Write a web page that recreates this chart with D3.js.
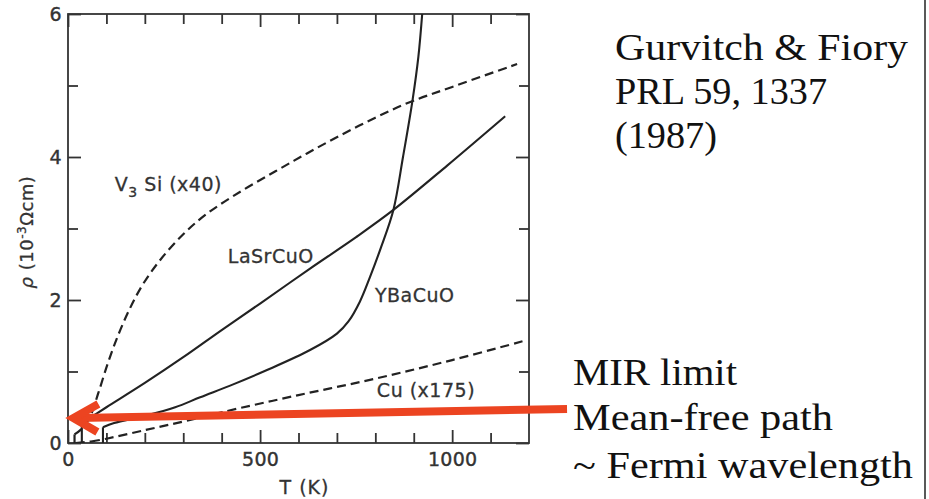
<!DOCTYPE html>
<html>
<head>
<meta charset="utf-8">
<script src="https://cdn.jsdelivr.net/npm/d3@7"></script>
<style>
    body { margin: 0; background: #fff; }
    svg { display: block; }
    .axis line { stroke: #333; stroke-width: 1.8; }
    .axis text { font-family: "DejaVu Sans", sans-serif; font-size: 19px; fill: #333; letter-spacing: 0.3px;
        stroke: #333; stroke-width: 0.4; }
    .curve { fill: none; stroke: #222; stroke-width: 2.1; }
    .dashed { stroke-dasharray: 9,5; stroke-width: 2.2; }
    .lbl { font-family: "DejaVu Sans", sans-serif; font-size: 19px; fill: #333; letter-spacing: 0.5px;
        stroke: #333; stroke-width: 0.3; }
    .note { font-family: "Liberation Serif", "Times New Roman", serif; font-size: 37px; fill: #111; }
</style>
</head>
<body>
<svg id="chart" width="929" height="499"></svg>
<script>
var v3si = [[17, 0], [17, 0.12], [40, 0.22], [60, 0.4], [79, 0.7], [104, 1.12], [130, 1.5],
    [161, 1.88], [195, 2.22], [240, 2.56], [300, 2.92], [360, 3.2], [450, 3.52], [540, 3.8],
    [622, 4.05], [708, 4.3], [800, 4.55], [891, 4.77], [1000, 4.98], [1169, 5.3]];
var lasrcuo = [[36, 0], [36, 0.28], [100, 0.5], [200, 0.84], [300, 1.2], [400, 1.58], [500, 1.95],
    [630, 2.44], [750, 2.88], [847, 3.26], [987, 3.88], [1138, 4.57]];
var ybacuo = [[91, 0], [91, 0.22], [120, 0.28], [200, 0.38], [279, 0.5], [344, 0.64], [430, 0.82],
    [518, 1.02], [630, 1.3], [700, 1.53], [730, 1.7], [760, 1.98], [786, 2.32], [815, 2.74],
    [847, 3.26], [872, 4.0], [897, 4.8], [912, 5.4], [922, 6.0]];
var cu = [[20, 0], [60, 0.02], [100, 0.06], [200, 0.18], [300, 0.3], [400, 0.43], [600, 0.67],
    [800, 0.9], [1000, 1.16], [1195, 1.44]];

var xMajor = [0, 500, 1000];
var xMinor = [100, 200, 300, 400, 600, 700, 800, 900, 1100];
var yMajor = [0, 2, 4, 6];
var yMinor = [1, 3, 5];

var svg = d3.select("#chart"),
    margin = {top: 14, left: 68},
    width = 461,
    height = 429,
    g = svg.append("g").attr("transform", "translate(" + margin.left + "," + margin.top + ")");

var x = d3.scaleLinear().domain([0, 1200]).range([0, width]);
var y = d3.scaleLinear().domain([0, 6]).range([height, 0]);

// ticks all point inward, on all four sides
function ticks(axis, size, vals, labels) {
    axis.tickValues(vals).tickSizeInner(-size).tickSizeOuter(0)
        .tickFormat(labels ? d3.format("d") : "");
    return axis;
}
[[13, xMajor], [10, xMinor]].forEach(function (t) {
    g.append("g").attr("class", "axis").attr("transform", "translate(0," + height + ")")
        .call(ticks(d3.axisBottom(x), t[0], t[1], t[1] === xMajor).tickPadding(10));
    g.append("g").attr("class", "axis")
        .call(ticks(d3.axisTop(x), t[0], t[1], false));
});
[[13, yMajor], [10, yMinor]].forEach(function (t) {
    g.append("g").attr("class", "axis")
        .call(ticks(d3.axisLeft(y), t[0], t[1], t[1] === yMajor).tickPadding(6));
    g.append("g").attr("class", "axis").attr("transform", "translate(" + width + ",0)")
        .call(ticks(d3.axisRight(y), t[0], t[1], false));
});
g.selectAll(".domain").remove();

g.append("rect")
    .attr("width", width).attr("height", height)
    .attr("fill", "none").attr("stroke", "#333").attr("stroke-width", 1.8);

g.append("clipPath").attr("id", "plot").append("rect")
    .attr("width", width).attr("height", height);

var smooth = d3.line()
    .x(function (d) { return x(d[0]); })
    .y(function (d) { return y(d[1]); })
    .curve(d3.curveCatmullRom.alpha(0.5));
var straight = d3.line()
    .x(function (d) { return x(d[0]); })
    .y(function (d) { return y(d[1]); });

// first two points are the superconducting step, drawn straight
function drawCurve(data, dashed) {
    var c = g.append("g").attr("clip-path", "url(#plot)");
    c.append("path").attr("class", "curve" + (dashed ? " dashed" : ""))
        .attr("d", straight(data.slice(0, 2)));
    c.append("path").attr("class", "curve" + (dashed ? " dashed" : ""))
        .attr("d", smooth(data.slice(1)));
}
drawCurve(v3si, true);
drawCurve(lasrcuo, false);
drawCurve(ybacuo, false);
drawCurve(cu, true);

// curve labels
var v = g.append("text").attr("class", "lbl").attr("x", x(122)).attr("y", y(3.52));
v.append("tspan").text("V");
v.append("tspan").attr("dy", 6).style("font-size", "14px").text("3");
v.append("tspan").attr("dy", -6).text(" Si (x40)");
g.append("text").attr("class", "lbl").attr("x", x(416)).attr("y", y(2.52)).text("LaSrCuO");
g.append("text").attr("class", "lbl").attr("x", x(799)).attr("y", y(1.97)).text("YBaCuO");
g.append("text").attr("class", "lbl").attr("x", x(804)).attr("y", y(0.64)).text("Cu (x175)");

// axis titles
g.append("text").attr("class", "lbl").attr("x", width / 2 + 6).attr("y", height + 51)
    .attr("text-anchor", "middle").style("letter-spacing", "1px").text("T (K)");
var yl = svg.append("text").attr("class", "lbl")
    .attr("transform", "translate(33,232) rotate(-90)")
    .attr("text-anchor", "middle").style("font-size", "18px");
yl.append("tspan").style("font-style", "italic").text("ρ");
yl.append("tspan").text(" (10");
yl.append("tspan").attr("dy", -7).style("font-size", "12px").text("-3");
yl.append("tspan").attr("dy", 7).text("Ωcm)");

// MIR-limit arrow
var arrowFrom = [1299, 0.476], arrowTo = [14, 0.35];
var ax0 = x(arrowFrom[0]), ay0 = y(arrowFrom[1]), ax1 = x(arrowTo[0]), ay1 = y(arrowTo[1]);
var red = g.append("g").attr("fill", "none").attr("stroke", "#ec4421").attr("stroke-width", 8);
red.append("line").attr("x1", ax0).attr("y1", ay0).attr("x2", ax1 + 4).attr("y2", ay1);
red.append("path").attr("stroke-linejoin", "miter")
    .attr("d", "M" + (ax1 + 25) + "," + (ay1 - 14) + "L" + ax1 + "," + ay1 + "L" + (ax1 + 24) + "," + (ay1 + 14));

// slide text
[["Gurvitch & Fiory", 615, 60, 293], ["PRL 59, 1337", 615, 104, 212], ["(1987)", 615, 148, 102],
 ["MIR limit", 573, 385, 164], ["Mean-free path", 573, 430, 260], ["~ Fermi wavelength", 573, 478, 340]]
    .forEach(function (t) {
        svg.append("text").attr("class", "note")
            .attr("x", t[1]).attr("y", t[2])
            .attr("textLength", t[3]).attr("lengthAdjust", "spacingAndGlyphs")
            .text(t[0]);
    });

svg.append("line").attr("x1", 925).attr("x2", 925).attr("y1", 0).attr("y2", 499)
    .attr("stroke", "#222").attr("stroke-width", 1.5);
</script>
</body>
</html>
